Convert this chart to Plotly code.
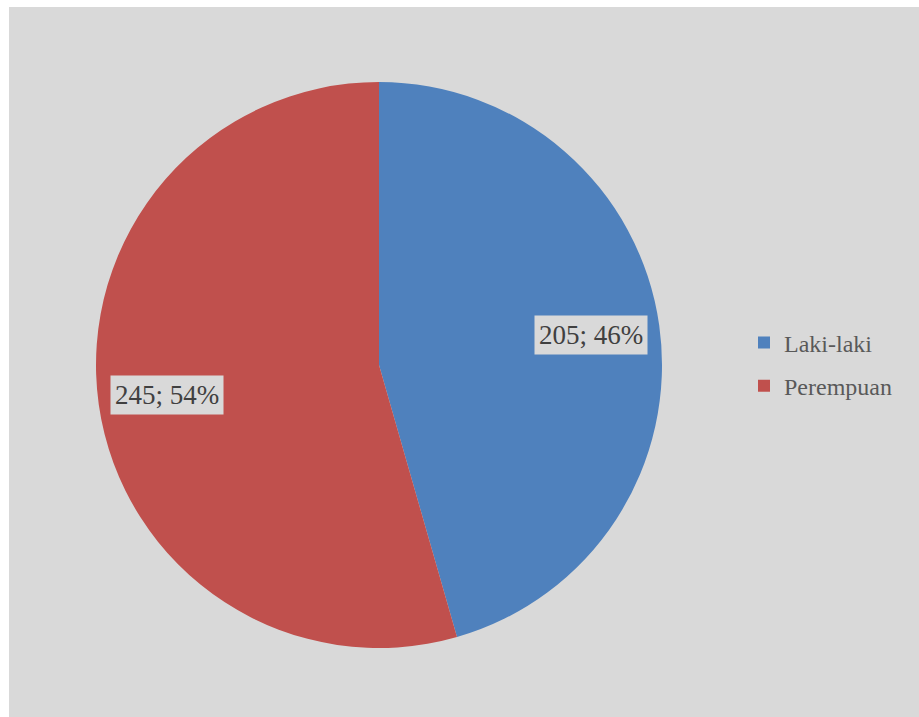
import math
import plotly.graph_objects as go

labels = ["Laki-laki", "Perempuan"]
values = [205, 245]
colors = ["#4f81bd", "#c0504d"]

W, H = 919, 717
ml, mt = 9, 7
pw, ph = W - ml, H - mt

# pie geometry in pixels (for domain)
cx, cy, r = 379, 365, 283
dom_x = [(cx - r - ml) / pw, (cx + r - ml) / pw]
dom_y = [1 - (cy + r - mt) / ph, 1 - (cy - r - mt) / ph]

fig = go.Figure()
fig.add_trace(go.Pie(
    labels=labels, values=values, sort=False, direction="clockwise", rotation=0,
    marker=dict(colors=colors, line=dict(width=0)),
    textinfo="none", hoverinfo="label+value+percent",
    domain=dict(x=dom_x, y=dom_y), showlegend=False,
))

# legend entries (square swatches) as empty marker traces
for lab, col in zip(labels, colors):
    fig.add_trace(go.Scatter(
        x=[None], y=[None], mode="markers", name=lab, legendgroup=lab,
        marker=dict(symbol="square", size=12, color=col), hoverinfo="skip",
    ))

# data labels with boxes, placed at slice mid-angles
total = sum(values)
cum = 0
annotations = []
for v in values:
    mid = (cum + v / 2) / total * 2 * math.pi
    cum += v
    rr = 0.755 * r
    px = cx + rr * math.sin(mid)
    py = cy - rr * math.cos(mid)
    pct = round(v / total * 100)
    annotations.append(dict(
        x=(px - ml) / pw, y=1 - (py - mt) / ph, xref="paper", yref="paper",
        xanchor="center", yanchor="middle",
        text=f"{v}; {pct}%", showarrow=False,
        font=dict(family="Liberation Serif", size=27, color="#404040"),
        bgcolor="#d9d9d9", borderpad=4,
    ))

fig.update_layout(
    width=W, height=H,
    margin=dict(l=ml, r=0, t=mt, b=0),
    paper_bgcolor="white",
    plot_bgcolor="rgba(0,0,0,0)",
    xaxis=dict(visible=False),
    yaxis=dict(visible=False),
    shapes=[dict(type="rect", xref="paper", yref="paper", x0=0, y0=0, x1=1, y1=1,
                 fillcolor="#d9d9d9", line=dict(width=0), layer="below")],
    annotations=annotations,
    legend=dict(x=(744 - ml) / pw, y=1 - (364.5 - mt) / ph, xanchor="left", yanchor="middle",
                font=dict(family="Liberation Serif", size=24, color="#595959"),
                bgcolor="rgba(0,0,0,0)", tracegroupgap=9, itemwidth=30),
)
fig.write_html("out.html", config={"displayModeBar": False},
               post_script="document.body.style.margin='0px';")
